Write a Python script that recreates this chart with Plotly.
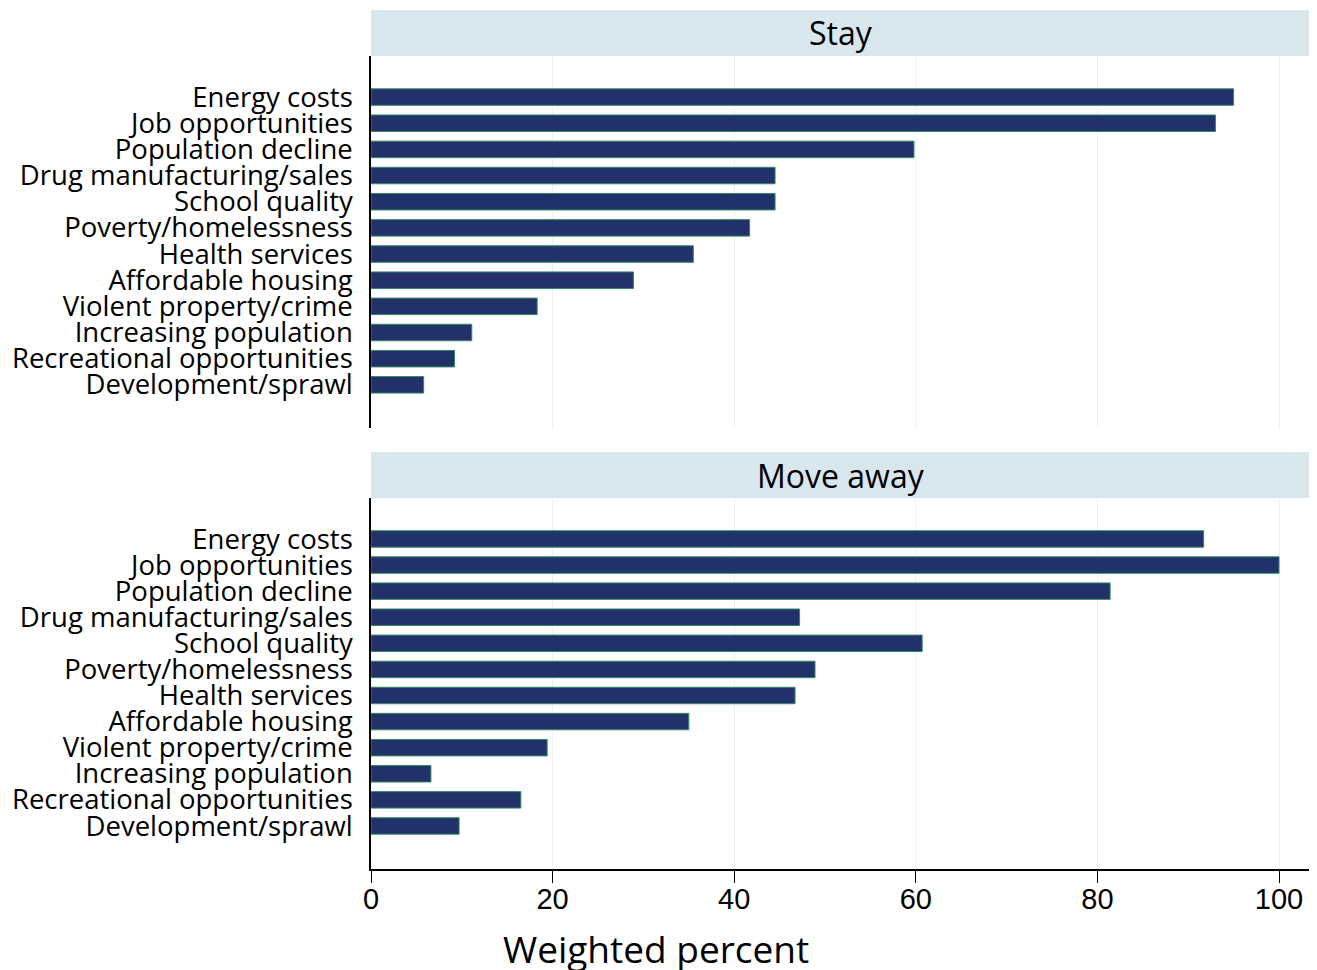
import plotly.graph_objects as go
from plotly.subplots import make_subplots

categories = ["Energy costs", "Job opportunities", "Population decline",
              "Drug manufacturing/sales", "School quality", "Poverty/homelessness",
              "Health services", "Affordable housing", "Violent property/crime",
              "Increasing population", "Recreational opportunities", "Development/sprawl"]
stay = [95.0, 93.0, 59.8, 44.5, 44.5, 41.7, 35.5, 28.9, 18.3, 11.1, 9.2, 5.8]
move_away = [91.7, 100.0, 81.4, 47.2, 60.7, 48.9, 46.7, 35.0, 19.4, 6.6, 16.5, 9.7]
panels = ["Stay", "Move away"]
xticks = [0, 20, 40, 60, 80, 100]

# page has an 8px body margin; work in page pixels and subtract it
OFF = 8
W, H = 1317 - OFF, 970 - OFF
ml = 371 - OFF
mt = 10 - OFF
plot_bottom = 869 - OFF
mb = H - plot_bottom
mr = W - (1310 - OFF)
ph = H - mt - mb
pw = W - ml - mr

def fy(page_px):
    return (plot_bottom - (page_px - OFF)) / ph

top_dom = [fy(428), fy(56)]
bot_dom = [0, fy(498)]
strips = [(fy(56), 1.0), (fy(498), fy(452))]

fig = make_subplots(rows=2, cols=1, shared_xaxes=False)
bar_fill = "#23316a"
bar_line = "#2f8a60"
for i, vals in enumerate([stay, move_away]):
    fig.add_trace(go.Bar(x=vals, y=categories, orientation="h", width=0.63,
                         marker=dict(color=bar_fill, line=dict(color=bar_line, width=1)),
                         showlegend=False, hoverinfo="x+y"), row=i + 1, col=1)

# x range so that 100 lands at page x 1279 with 0 at 371
xmax = pw / ((1279 - 371) / 100)
common_x = dict(range=[0, xmax], tickvals=xticks, showgrid=True, gridcolor="#e9f2f4",
                gridwidth=1, zeroline=False, automargin=False)
ycommon = dict(categoryorder="array", categoryarray=categories, tickmode="array",
               tickvals=categories, ticktext=categories,
               range=[12.65, -1.57], showline=True, linecolor="black", linewidth=1.5,
               ticks="", showgrid=False, ticklabelstandoff=11, automargin=False,
               tickfont=dict(family="Open Sans", size=27.5, color="black"))
fig.update_layout(
    xaxis=dict(**common_x, showticklabels=False, showline=False, ticks="", anchor="y", domain=[0, 1]),
    xaxis2=dict(**common_x, showline=True, linecolor="black", linewidth=1.5, ticks="outside",
                ticklen=12, tickcolor="black", tickwidth=1.2, anchor="y2", domain=[0, 1],
                ticklabelstandoff=-9,
                tickfont=dict(family="Liberation Sans, Arial", size=29, color="black")),
    yaxis=dict(domain=top_dom, **ycommon),
    yaxis2=dict(domain=bot_dom, **ycommon),
    width=W, height=H,
    margin=dict(l=ml, r=mr, t=mt, b=mb, autoexpand=False),
    plot_bgcolor="white", paper_bgcolor="white",
)

for (y0, y1), name in zip(strips, panels):
    fig.add_shape(type="rect", xref="paper", yref="paper", x0=0, x1=1, y0=y0, y1=y1,
                  fillcolor="#d8e6ee", line=dict(width=0), layer="below")
    fig.add_annotation(xref="paper", yref="paper", x=0.5, y=(y0 + y1) / 2, text=name,
                       showarrow=False, font=dict(family="Open Sans", size=32, color="black"),
                       xanchor="center", yanchor="middle")

fig.add_annotation(xref="paper", yref="paper", x=(656 - 371) / pw, y=fy(948),
                   text="Weighted percent", showarrow=False,
                   font=dict(family="Open Sans", size=37, color="black"),
                   xanchor="center", yanchor="middle")

fig.write_html("out.html")
